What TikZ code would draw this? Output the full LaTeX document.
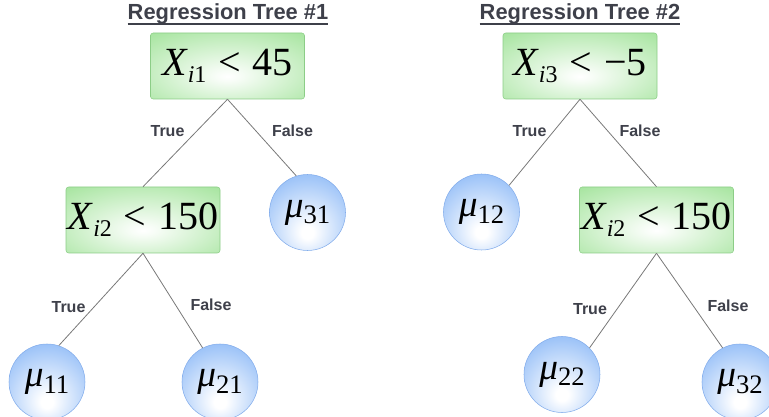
\documentclass[tikz,border=0pt]{standalone}
\usepackage{fontspec}
\setmainfont{Liberation Serif}
\newfontfamily\labelfont{Liberation Sans}
\usepackage{xcolor}

\definecolor{boxgreen}{RGB}{158,226,150}
\definecolor{boxline}{RGB}{140,205,135}
\definecolor{ballblue}{RGB}{132,180,246}
\definecolor{ballline}{RGB}{130,172,235}
\definecolor{lblgray}{RGB}{62,64,74}
\definecolor{edgegray}{RGB}{120,120,120}

\pgfdeclareradialshading{condshade}{\pgfpoint{0bp}{-8bp}}{color(0bp)=(white); color(4bp)=(white!92!boxgreen); color(42bp)=(boxgreen); color(80bp)=(boxgreen)}
\pgfdeclareradialshading{leafshade}{\pgfpoint{0bp}{-14bp}}{color(0bp)=(white); color(4bp)=(white); color(40bp)=(ballblue); color(80bp)=(ballblue)}

\newcommand{\xsub}[2]{{\itshape X}\kern1pt\raisebox{-5.5pt}{\fontsize{18pt}{18pt}\selectfont{\itshape #1}#2}}
\newcommand{\musub}[1]{{\itshape μ}\raisebox{-5pt}{\fontsize{20pt}{20pt}\selectfont #1}}
\newcommand{\ttlline}[1]{\setbox0=\hbox{#1}\leavevmode\rlap{\rule[-3.6pt]{\wd0}{1.3pt}}\box0}

\begin{document}
\begin{tikzpicture}[x=0.75pt, y=-0.75pt,
    cond/.style={draw=boxline, rounded corners=2pt, shade, shading=condshade, minimum width=115.5pt, minimum height=49.5pt, inner sep=0pt, font=\fontsize{30pt}{32pt}\selectfont},
    leaf/.style={circle, draw=ballline, shade, shading=leafshade, minimum size=57pt, inner sep=0pt, font=\fontsize{28pt}{30pt}\selectfont},
    edge/.style={draw=edgegray, line width=0.6pt},
    lbl/.style={anchor=base, text=lblgray, font=\labelfont\bfseries\fontsize{12pt}{14pt}\selectfont},
    ttl/.style={anchor=base, text=lblgray, font=\labelfont\bfseries\fontsize{16.4pt}{18pt}\selectfont}
]
    \useasboundingbox (0,0) rectangle (769,417);

    % tree 1
    \node[ttl] (title1) at (228,20) {\ttlline{Regression Tree \#1}};
    \node[cond] (c1) at (227.5,66) {\xsub{i}{1}\hspace{0.3em}<\hspace{0.3em}45};
    \node[cond] (c2) at (143,220) {\xsub{i}{2}\hspace{0.3em}<\hspace{0.3em}150};
    \node[leaf] (m31) at (307.5,212.5) {\musub{31}};
    \node[leaf] (m11) at (47,382) {\musub{11}};
    \node[leaf] (m21) at (220,382) {\musub{21}};

    \draw[edge] (c1.south) -- (c2.north);
    \draw[edge] (c1.south) -- (m31.107);
    \draw[edge] (c2.south) -- (m11.72);
    \draw[edge] (c2.south) -- (m21.117);

    \node[lbl] (t1) at (167.5,137) {True};
    \node[lbl] (f1) at (292.5,137) {False};
    \node[lbl] (t2) at (68.5,313) {True};
    \node[lbl] (f2) at (211,311) {False};

    % tree 2
    \node[ttl] (title2) at (580,20) {\ttlline{Regression Tree \#2}};
    \node[cond] (c3) at (580,66) {\xsub{i}{3}\hspace{0.3em}<\hspace{0.3em}−5};
    \node[cond] (c4) at (656.5,220) {\xsub{i}{2}\hspace{0.3em}<\hspace{0.3em}150};
    \node[leaf] (m12) at (481.5,212) {\musub{12}};
    \node[leaf] (m22) at (562,374.5) {\musub{22}};
    \node[leaf] (m32) at (740,382) {\musub{32}};

    \draw[edge] (c3.south) -- (m12.44);
    \draw[edge] (c3.south) -- (c4.north);
    \draw[edge] (c4.south) -- (m22.44);
    \draw[edge] (c4.south) -- (m32.117);

    \node[lbl] (t3) at (529.5,137) {True};
    \node[lbl] (f3) at (640,137) {False};
    \node[lbl] (t4) at (590,315) {True};
    \node[lbl] (f4) at (728,312) {False};
\end{tikzpicture}
\end{document}
